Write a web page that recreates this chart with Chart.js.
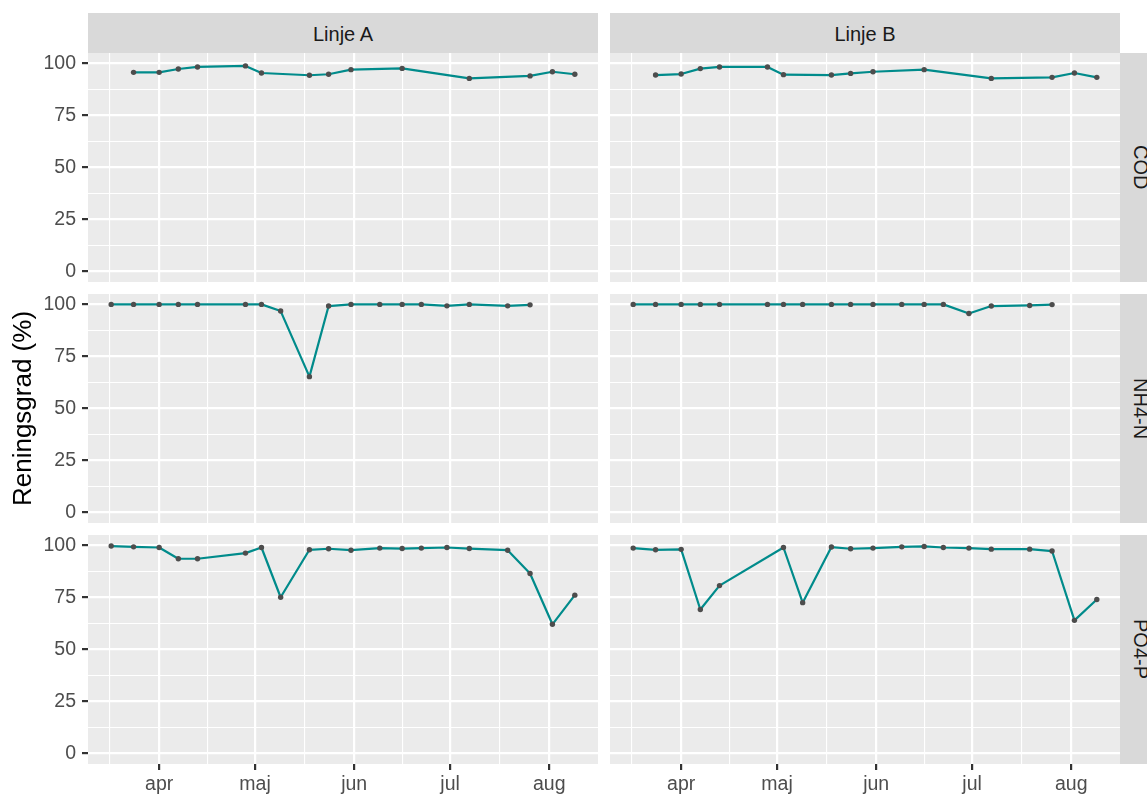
<!DOCTYPE html>
<html>
<head>
<meta charset="utf-8">
<script src="https://cdn.jsdelivr.net/npm/chart.js@4.4.1/dist/chart.umd.min.js"></script>
<style>
  html, body { margin: 0; padding: 0; background: #fff; }
  body { width: 1147px; height: 794px; position: relative; overflow: hidden; font-family: 'Liberation Sans', Arial, sans-serif; }
  canvas { position: absolute; }
  .strip { position: absolute; background: #D9D9D9; color: #1A1A1A; font-size: 20px; display: flex; align-items: center; justify-content: center; }
  .strip.top span { padding-top: 2px; }
  .strip.side { writing-mode: vertical-rl; }
</style>
</head>
<body>
<script>
// provtagningsdatum (gemensamma for alla paneler)
const sampleDates = ['2021-03-17', '2021-03-24', '2021-04-01', '2021-04-07', '2021-04-13',
  '2021-04-28', '2021-05-03', '2021-05-09', '2021-05-18', '2021-05-24', '2021-05-31',
  '2021-06-09', '2021-06-16', '2021-06-22', '2021-06-30', '2021-07-07', '2021-07-19',
  '2021-07-26', '2021-08-02', '2021-08-09'];

// reningsgrad (%) per linje och parameter, null = inget prov
const codA = [null, 95.7, 95.7, 97.3, 98.3, 98.8, 95.4, null, 94.3, 94.8, 97.0, null, 97.6, null, null, 92.8, null, 94.0, 96.0, 94.8];
const codB = [null, 94.4, 94.9, 97.5, 98.3, 98.3, 94.6, null, 94.4, 95.2, 96.0, null, 97.0, null, null, 92.8, null, 93.3, 95.4, 93.3];
const nh4A = [100, 100, 100, 100, 100, 100, 100, 96.8, 65.3, 99.2, 100, 100, 100, 100, 99.3, 100, 99.3, 99.8, null, null];
const nh4B = [100, 100, 100, 100, 100, 100, 100, 100, 100, 100, 100, 100, 100, 100, 95.6, 99.2, 99.5, 99.9, null, null];
const po4A = [99.7, 99.3, 99.0, 93.6, 93.6, 96.3, 99.0, 75.1, 97.9, 98.4, 97.7, 98.7, 98.5, 98.7, 99.0, 98.5, 97.7, 86.5, 62.1, 76.1];
const po4B = [98.7, 97.9, 98.1, 69.2, 80.7, null, 99.0, 72.5, 99.2, 98.4, 98.7, 99.3, 99.5, 99.0, 98.7, 98.2, 98.2, 97.3, 64.0, 74.0];

const monthBreaks = ['2021-03-01', '2021-04-01', '2021-05-01', '2021-06-01', '2021-07-01', '2021-08-01', '2021-09-01'];
const monthLabels = ['mar', 'apr', 'maj', 'jun', 'jul', 'aug', 'sep'];
const yBreaks = [0, 25, 50, 75, 100];

const lineNames = ['Linje A', 'Linje B'];
const paramNames = ['COD', 'NH4-N', 'PO4-P'];
const panelData = [[codA, codB], [nh4A, nh4B], [po4A, po4B]];

// layout
const panelLeft = [88, 610];
const panelW = 510;
const rowTop = [53, 294, 535];
const panelH = 229;
const yAxisW = 88;
const xAxisH = 30;

function doy(s) {
  const [y, m, d] = s.split('-').map(Number);
  return (Date.UTC(y, m - 1, d) - Date.UTC(y, 0, 1)) / 864e5 + 1;
}

const days = sampleDates.map(doy);
const lo = Math.min(...days), hi = Math.max(...days);
const xMin = lo - 0.05 * (hi - lo);
const xMax = hi + 0.05 * (hi - lo);

// major + minor brytpunkter som ggplot
const mb = monthBreaks.map(doy);
let xTicks = [];
mb.forEach((v, i) => {
  xTicks.push({ value: v, minor: false, name: monthLabels[i] });
  if (i < mb.length - 1) xTicks.push({ value: (v + mb[i + 1]) / 2, minor: true, name: '' });
});
xTicks = xTicks.filter(t => t.value >= xMin && t.value <= xMax);

let yTicks = [];
yBreaks.forEach((v, i) => {
  yTicks.push({ value: v, minor: false, name: String(v) });
  if (i < yBreaks.length - 1) yTicks.push({ value: (v + yBreaks[i + 1]) / 2, minor: true, name: '' });
});

Chart.defaults.font.family = "'Liberation Sans', Arial, sans-serif";

const panelBg = {
  id: 'panelBg',
  beforeDraw(chart) {
    const a = chart.chartArea;
    chart.ctx.save();
    chart.ctx.fillStyle = '#EBEBEB';
    chart.ctx.fillRect(a.left, a.top, a.right - a.left, a.bottom - a.top);
    chart.ctx.restore();
  }
};

function gridOpts(show) {
  return {
    color: '#FFFFFF',
    lineWidth: c => (c.tick && c.tick.minor ? 1.1 : 2.2),
    drawTicks: show,
    tickLength: 6,
    tickWidth: 2.2,
    tickColor: c => (c.tick && c.tick.minor ? 'rgba(0,0,0,0)' : '#333333')
  };
}

function makePanel(row, col) {
  const showY = col === 0, showX = row === 2;
  const canvas = document.createElement('canvas');
  canvas.width = panelW + (showY ? yAxisW : 0);
  canvas.height = panelH + (showX ? xAxisH : 0);
  canvas.style.left = (showY ? panelLeft[col] - yAxisW : panelLeft[col]) + 'px';
  canvas.style.top = rowTop[row] + 'px';
  document.body.appendChild(canvas);

  const values = panelData[row][col];
  const pts = days.map((d, i) => ({ x: d, y: values[i] })).filter(p => p.y !== null);

  new Chart(canvas, {
    type: 'line',
    data: {
      datasets: [{
        data: pts,
        borderColor: '#008B8B',
        borderWidth: 2.2,
        borderJoinStyle: 'round',
        tension: 0,
        pointRadius: 2.7,
        pointBorderWidth: 0,
        pointBackgroundColor: '#4D4D4D',
        pointBorderColor: '#4D4D4D'
      }]
    },
    options: {
      responsive: false,
      animation: false,
      devicePixelRatio: 1,
      layout: { padding: 0, autoPadding: false },
      events: [],
      plugins: { legend: { display: false }, tooltip: { enabled: false } },
      scales: {
        x: {
          type: 'linear',
          min: xMin,
          max: xMax,
          afterBuildTicks: s => { s.ticks = xTicks.map(t => ({ ...t })); },
          afterFit: s => { s.height = showX ? xAxisH : 0; s.paddingLeft = 0; s.paddingRight = 0; },
          ticks: {
            display: showX, autoSkip: false, maxRotation: 0, padding: 3,
            color: '#4D4D4D', font: { size: 19.5 },
            callback: (v, i, ticks) => ticks[i].name
          },
          grid: gridOpts(showX),
          border: { display: false }
        },
        y: {
          type: 'linear',
          min: -5,
          max: 105,
          afterBuildTicks: s => { s.ticks = yTicks.map(t => ({ ...t })); },
          afterFit: s => { s.width = showY ? yAxisW : 0; s.paddingTop = 0; s.paddingBottom = 0; },
          ticks: {
            display: showY, autoSkip: false, padding: 6,
            color: '#4D4D4D', font: { size: 19.5 },
            callback: (v, i, ticks) => ticks[i].name
          },
          title: {
            display: showY && row === 1,
            text: 'Reningsgrad (%)',
            color: '#000000',
            font: { size: 26 },
            padding: { top: 8, bottom: 0 }
          },
          grid: gridOpts(showY),
          border: { display: false }
        }
      }
    },
    plugins: [panelBg]
  });
}

function addStrip(text, cls, left, top, w, h) {
  const d = document.createElement('div');
  d.className = 'strip ' + cls;
  d.style.left = left + 'px';
  d.style.top = top + 'px';
  d.style.width = w + 'px';
  d.style.height = h + 'px';
  const s = document.createElement('span');
  s.textContent = text;
  d.appendChild(s);
  document.body.appendChild(d);
}

lineNames.forEach((n, c) => addStrip(n, 'top', panelLeft[c], 13, panelW, 40));
paramNames.forEach((n, r) => addStrip(n, 'side', panelLeft[1] + panelW, rowTop[r], 40, panelH));

for (let r = 0; r < 3; r++) {
  for (let c = 0; c < 2; c++) makePanel(r, c);
}
</script>
</body>
</html>
